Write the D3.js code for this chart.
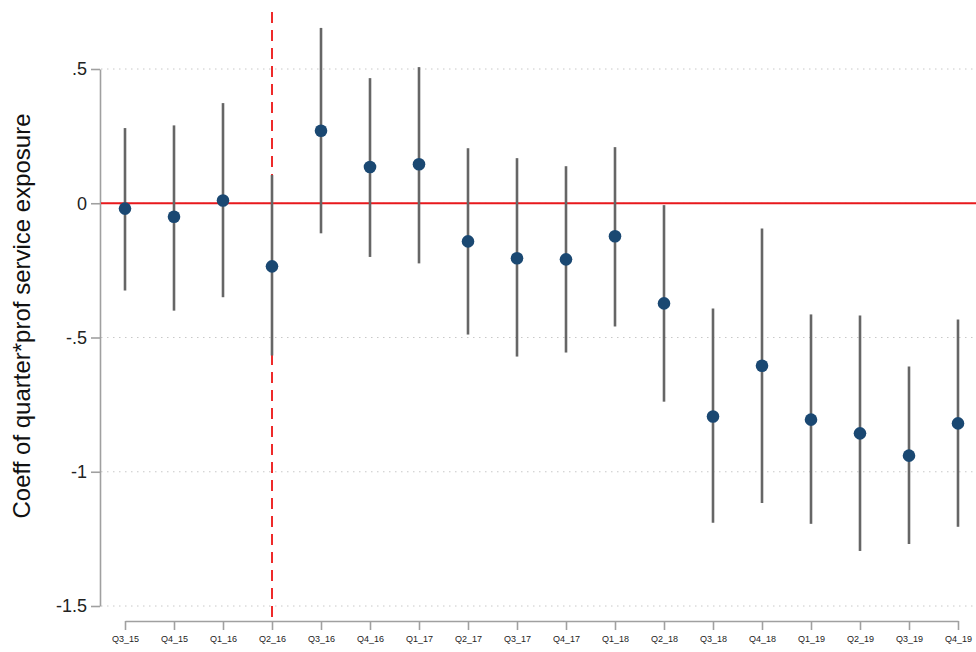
<!DOCTYPE html>
<html>
<head>
<meta charset="utf-8">
<script src="https://cdn.jsdelivr.net/npm/d3@7"></script>
<style>
  body { margin: 0; background: #fff; }
  svg { display: block; font-family: "Liberation Sans", Arial, sans-serif; }
</style>
</head>
<body>
<svg id="chart"></svg>
<script>
const quarters = ["Q3_15","Q4_15","Q1_16","Q2_16","Q3_16","Q4_16","Q1_17","Q2_17","Q3_17",
                  "Q4_17","Q1_18","Q2_18","Q3_18","Q4_18","Q1_19","Q2_19","Q3_19","Q4_19"];
const coef  = [-0.02,-0.05,0.01,-0.235,0.27,0.135,0.145,-0.142,-0.205,-0.209,-0.123,-0.373,-0.794,-0.605,-0.806,-0.857,-0.94,-0.82];
const ciLow = [-0.325,-0.40,-0.35,-0.567,-0.112,-0.20,-0.224,-0.489,-0.571,-0.556,-0.459,-0.739,-1.19,-1.116,-1.194,-1.295,-1.269,-1.205];
const ciHigh = [0.28,0.29,0.373,0.105,0.653,0.466,0.507,0.205,0.168,0.138,0.209,-0.007,-0.392,-0.094,-0.414,-0.418,-0.608,-0.433];
const yTicks = [0.5, 0, -0.5, -1, -1.5];
const yTickLabels = [".5", "0", "-.5", "-1", "-1.5"];
const eventQuarter = "Q2_16";

const width = 976, height = 652;
const svg = d3.select("#chart").attr("width", width).attr("height", height);

let x = d3.scalePoint().domain(quarters).range([125, 958]);
let y = d3.scaleLinear().domain([-1.5, 0.5]).range([606, 69]);

// gridlines
svg.append("g")
    .selectAll("line")
    .data(yTicks)
    .enter().append("line")
        .attr("x1", 101).attr("x2", width)
        .attr("y1", d => y(d)).attr("y2", d => y(d))
        .attr("stroke", "#c8c8c8")
        .attr("stroke-width", 1)
        .attr("stroke-dasharray", "1.5,4.5");

// y axis
let yAxis = d3.axisLeft(y)
                .tickValues(yTicks)
                .tickFormat((d, i) => yTickLabels[i])
                .tickSize(9)
                .tickPadding(4)
                .tickSizeOuter(0);
let gy = svg.append("g").attr("transform", "translate(100,0)").call(yAxis);
gy.select(".domain").attr("stroke", "#a0a0a0").attr("stroke-width", 1.6);
gy.selectAll(".tick line").attr("stroke", "#a0a0a0").attr("stroke-width", 1.6);
gy.selectAll(".tick text").attr("font-size", 18).attr("fill", "#222")
    .attr("font-family", "Liberation Sans, Arial, sans-serif");

// x axis
let xAxis = d3.axisBottom(x).tickSize(9).tickPadding(6).tickSizeOuter(0);
let gx = svg.append("g").attr("transform", "translate(0,621)").call(xAxis);
gx.select(".domain").attr("stroke", "#a0a0a0").attr("stroke-width", 1.6);
gx.selectAll(".tick line").attr("stroke", "#a0a0a0").attr("stroke-width", 1.6);
gx.selectAll(".tick text").attr("font-size", 9).attr("fill", "#222")
    .attr("font-family", "Liberation Sans, Arial, sans-serif");

// zero reference line
svg.append("line")
    .attr("x1", 101).attr("x2", width)
    .attr("y1", y(0)).attr("y2", y(0))
    .attr("stroke", "#e8191c")
    .attr("stroke-width", 1.8);

// event line (behind the intervals)
svg.append("line")
    .attr("x1", x(eventQuarter)).attr("x2", x(eventQuarter))
    .attr("y1", 12).attr("y2", 621)
    .attr("stroke", "#ee2a2a")
    .attr("stroke-width", 2)
    .attr("stroke-dasharray", "11,7");

// confidence intervals
svg.append("g")
    .selectAll("line")
    .data(quarters)
    .enter().append("line")
        .attr("x1", d => x(d)).attr("x2", d => x(d))
        .attr("y1", (d, i) => y(ciHigh[i]))
        .attr("y2", (d, i) => y(ciLow[i]))
        .attr("stroke", "#666666")
        .attr("stroke-width", 2.6);

// point estimates
svg.append("g")
    .selectAll("circle")
    .data(quarters)
    .enter().append("circle")
        .attr("cx", d => x(d))
        .attr("cy", (d, i) => y(coef[i]))
        .attr("r", 6.3)
        .attr("fill", "#1a4872");

// y label
svg.append("text")
    .attr("transform", "translate(30," + 316 + ") rotate(-90)")
    .attr("text-anchor", "middle")
    .attr("font-size", 24)
    .attr("fill", "#111")
    .text("Coeff of quarter*prof service exposure");
</script>
</body>
</html>
